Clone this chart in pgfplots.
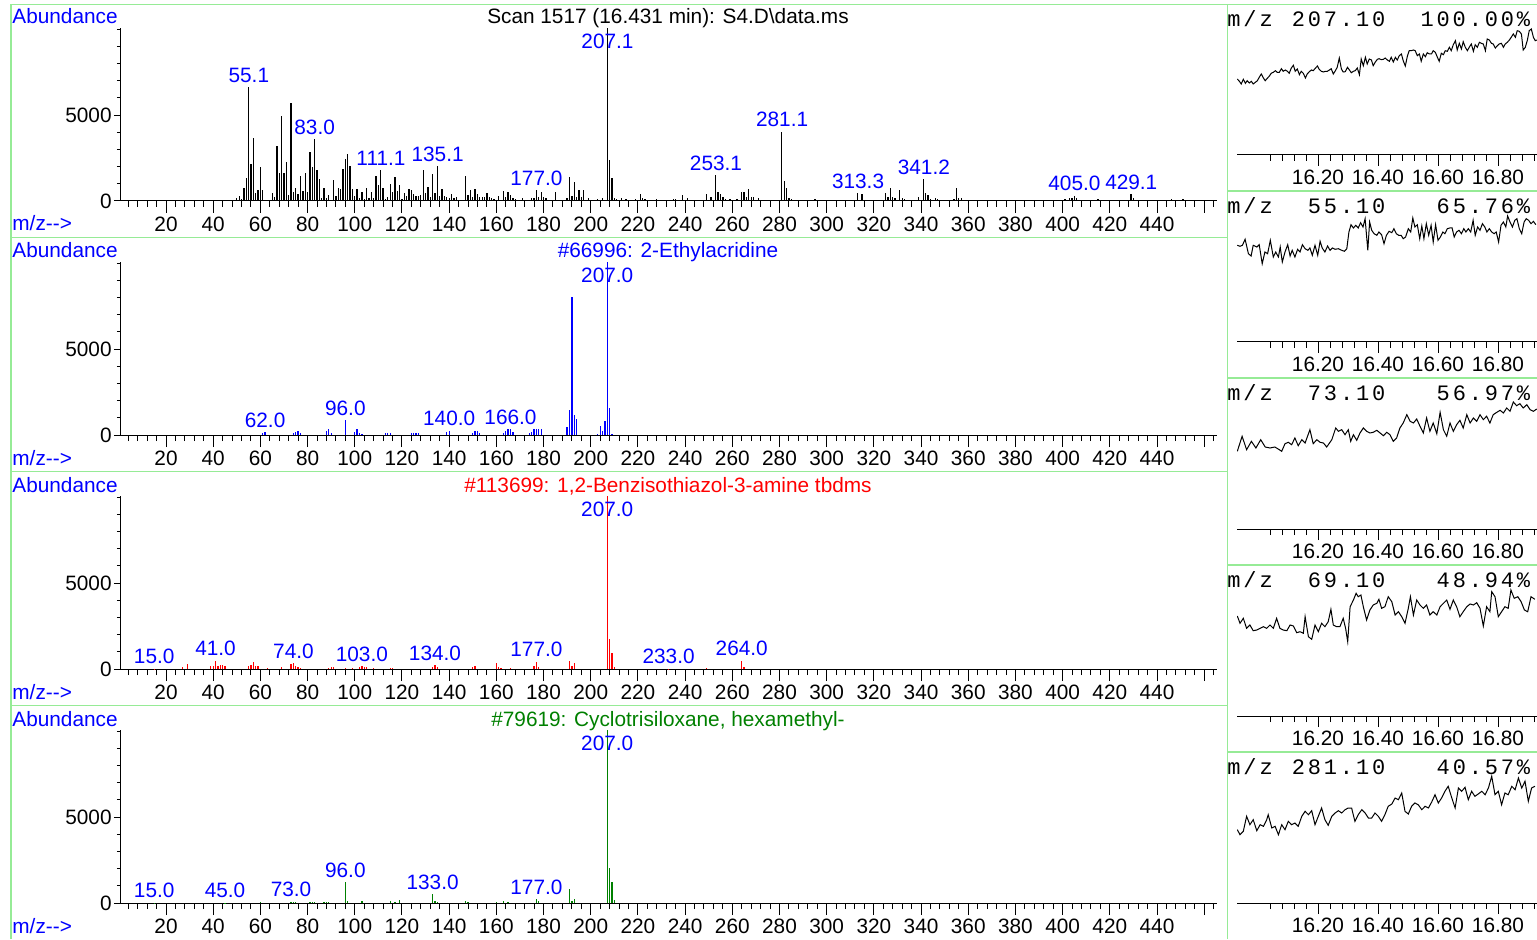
\documentclass[border=0pt]{standalone}
\usepackage{fontspec}
\setmainfont{Liberation Sans}
\newfontfamily\cmono[LetterSpace=13]{Liberation Mono}
\usepackage{pgfplots}
\pgfplotsset{compat=1.18}
\definecolor{gline}{RGB}{150,235,150}
\definecolor{lb}{RGB}{0,0,255}
\definecolor{lr}{RGB}{255,0,0}
\definecolor{lg}{RGB}{0,128,0}
\newcommand\fs{\fontsize{10.4}{12}\selectfont}
\newcommand\Pt[2]{({(#1)*0.5pt},{(939-(#2))*0.5pt})}
\tikzset{lbl/.style={text=lb, font=\fs, inner sep=0pt, yshift=6pt},
 lbltop/.style={text=lb, font=\fs, inner sep=0pt, yshift=-6.5pt}}
\pgfplotsset{
 spec/.style={scale only axis, width=548.5pt, height=86.5pt,
   xmin=0.5, xmax=465.43, ymin=0, ymax=10060,
   axis x line=bottom, axis y line=none, x axis line style={-},
   xtick={20,40,...,440}, minor xtick={4,8,...,464},
   extra x ticks={460}, extra x tick labels={},
   ytick=\empty, tick align=outside,
   major tick length=6pt, minor tick length=3pt,
   tick style={black, line width=0.5pt}, axis line style={line width=0.5pt},
   xticklabel style={font=\fs, inner sep=2pt},
   /pgf/number format/assume math mode=true,
   clip mode=individual, anchor=south west},
 yax/.style={scale only axis, width=548.5pt, height=86.5pt,
   xmin=0.5, xmax=465.43, ymin=0, ymax=10060,
   axis y line=left, axis x line=none, y axis line style={-},
   scaled y ticks=false,
   xtick=\empty, ytick={0,5000}, yticklabels={0,5000},
   minor ytick={1000,2000,3000,4000,6000,7000,8000,9000,10000},
   tick align=outside, major tick length=3pt, minor tick length=1.5pt,
   tick style={black,line width=0.5pt}, axis line style={line width=0.5pt},
   yticklabel style={font=\fs, inner sep=0pt, xshift=-1pt}, anchor=south west},
 chrom/.style={scale only axis, width=150pt, height=70pt,
   xmin=15.93, xmax=16.93, ymin=0, ymax=140,
   axis x line=bottom, axis y line=none, x axis line style={-},
   xtick={16.2,16.4,16.6,16.8}, xticklabels={16.20,16.40,16.60,16.80},
   minor xtick={16.04,16.08,16.12,16.16,16.24,16.28,16.32,16.36,16.44,16.48,16.52,16.56,16.64,16.68,16.72,16.76,16.84,16.88,16.92},
   ytick=\empty, tick align=outside, major tick length=5.5pt, minor tick length=3pt,
   tick style={black,line width=0.5pt}, axis line style={line width=0.5pt},
   xticklabel style={font=\fs, inner sep=2pt}, anchor=south west},
 bars/.style={ycomb, line width=0.65pt, mark=none},
 chl/.style={black, line width=0.5pt, mark=none}
}
\begin{document}
\begin{tikzpicture}
\path[use as bounding box] (0,0) rectangle (768.5pt,469.5pt);
% green frame lines
\begin{scope}[gline, line width=0.6pt]
\draw \Pt{11}{4.3} -- \Pt{1537}{4.3};
\draw \Pt{11}{4.3} -- \Pt{11}{939};
\draw \Pt{1227.5}{4.3} -- \Pt{1227.5}{939};
\draw \Pt{11}{237.5} -- \Pt{1227.5}{237.5};
\draw \Pt{11}{471.5} -- \Pt{1227.5}{471.5};
\draw \Pt{11}{705.5} -- \Pt{1227.5}{705.5};
\draw \Pt{1227.5}{191} -- \Pt{1537}{191};
\draw \Pt{1227.5}{378} -- \Pt{1537}{378};
\draw \Pt{1227.5}{565} -- \Pt{1537}{565};
\draw \Pt{1227.5}{752} -- \Pt{1537}{752};
\end{scope}
% panel texts
\foreach \k in {0,1,2,3}{
 \node[anchor=base west, inner sep=0pt, text=lb, font=\fs] at \Pt{12}{24+234*\k} {Abundance};
 \node[anchor=base west, inner sep=0pt, text=lb, font=\fs] at \Pt{12}{231+234*\k} {m/z-{}->};
}
\node[anchor=base, inner sep=0pt, font=\fs] at \Pt{668}{24} {Scan 1517 (16.431 min): S4.D\textbackslash data.ms};
\node[anchor=base, inner sep=0pt, font=\fs, text=lb] at \Pt{668}{258} {\#66996: 2-Ethylacridine};
\node[anchor=base, inner sep=0pt, font=\fs, text=lr] at \Pt{668}{492} {\#113699: 1,2-Benzisothiazol-3-amine tbdms};
\node[anchor=base, inner sep=0pt, font=\fs, text=lg] at \Pt{668}{726} {\#79619: Cyclotrisiloxane, hexamethyl-};
% chromatogram headers
\begin{scope}[every node/.style={anchor=base west, inner sep=0pt, font=\cmono\fontsize{11}{12}\selectfont}]
\node at \Pt{1227}{26.5} {m/z}; \node at \Pt{1291.4}{26.5} {207.10}; \node at \Pt{1420.2}{26.5} {100.00\%};
\node at \Pt{1227}{213.5} {m/z}; \node at \Pt{1307.5}{213.5} {55.10}; \node at \Pt{1436.3}{213.5} {65.76\%};
\node at \Pt{1227}{400.5} {m/z}; \node at \Pt{1307.5}{400.5} {73.10}; \node at \Pt{1436.3}{400.5} {56.97\%};
\node at \Pt{1227}{587.5} {m/z}; \node at \Pt{1307.5}{587.5} {69.10}; \node at \Pt{1436.3}{587.5} {48.94\%};
\node at \Pt{1227}{774.5} {m/z}; \node at \Pt{1291.4}{774.5} {281.10}; \node at \Pt{1436.3}{774.5} {40.57\%};
\end{scope}

% ---------------- Spectrum 1: scan
\begin{axis}[spec, at={(60pt,369pt)}]
\addplot[bars, black] coordinates {(50,150)(51,290)(52,100)(53,740)(54,1350)(55,6630)(56,2130)(57,3680)(58,480)(59,640)(60,2000)(61,620)(65,450)(66,250)(67,3200)(68,1610)(69,4920)(70,1610)(71,2250)(72,330)(73,5720)(74,520)(75,780)(76,390)(77,1430)(78,600)(79,1640)(80,520)(81,2850)(82,1970)(83,3580)(84,1800)(85,1300)(86,150)(87,780)(88,150)(89,330)(91,1200)(92,290)(93,740)(94,680)(95,1840)(96,2460)(97,2750)(98,2040)(99,680)(100,290)(101,720)(102,150)(103,520)(104,100)(105,780)(106,200)(107,520)(108,150)(109,1470)(110,910)(111,1780)(112,740)(113,120)(114,250)(115,1000)(116,540)(117,1410)(118,560)(119,910)(120,100)(121,450)(122,290)(123,680)(124,640)(125,390)(126,290)(127,290)(128,350)(129,1800)(130,450)(131,830)(132,250)(133,1570)(134,480)(135,2030)(136,290)(137,720)(138,290)(139,250)(140,150)(141,390)(142,150)(143,250)(147,1450)(148,350)(149,640)(150,250)(151,680)(152,390)(153,250)(154,250)(155,250)(156,450)(157,250)(158,150)(159,100)(161,290)(163,600)(164,250)(165,540)(166,350)(167,150)(168,100)(171,150)(175,150)(176,150)(177,640)(178,250)(179,520)(180,250)(181,150)(185,500)(190,150)(191,1410)(192,290)(193,1100)(194,250)(195,620)(196,250)(197,620)(199,150)(203,100)(205,150)(207,10060)(208,2380)(209,1340)(210,150)(211,100)(213,200)(215,100)(219,100)(221,400)(222,150)(223,100)(228,100)(235,100)(236,100)(239,370)(241,150)(249,400)(251,250)(253,1510)(254,500)(255,400)(256,250)(257,100)(259,100)(262,100)(264,540)(265,540)(266,250)(267,700)(268,250)(269,250)(271,200)(281,4030)(282,1160)(283,780)(284,150)(285,100)(295,100)(313,450)(315,400)(325,450)(326,250)(327,780)(328,250)(329,150)(331,620)(332,150)(333,100)(339,250)(341,1260)(342,450)(343,350)(344,100)(346,150)(347,100)(354,100)(355,780)(356,200)(357,150)(401,100)(403,150)(404,200)(405,310)(406,150)(415,100)(429,400)(430,150)(446,120)(451,100)};
\node[lbl] at (axis cs:55.1,6630) {55.1};
\node[lbl] at (axis cs:83.0,3580) {83.0};
\node[lbl] at (axis cs:111.1,1780) {111.1};
\node[lbl] at (axis cs:135.1,2030) {135.1};
\node[lbl] at (axis cs:177.0,640) {177.0};
\node[lbltop] at (axis cs:207.1,10060) {207.1};
\node[lbl] at (axis cs:253.1,1510) {253.1};
\node[lbl] at (axis cs:281.1,4030) {281.1};
\node[lbl] at (axis cs:313.3,450) {313.3};
\node[lbl] at (axis cs:341.2,1260) {341.2};
\node[lbl] at (axis cs:405.0,310) {405.0};
\node[lbl] at (axis cs:429.1,400) {429.1};
\end{axis}
\begin{axis}[yax, at={(60pt,369pt)}]\end{axis}

% ---------------- Spectrum 2: 2-Ethylacridine
\begin{axis}[spec, at={(60pt,252pt)}]
\addplot[bars, lb] coordinates {(61,100)(62,150)(74,100)(75,190)(76,250)(77,140)(88,250)(89,350)(90,100)(96,850)(100,150)(101,350)(102,100)(103,60)(113,100)(114,100)(115,100)(124,100)(125,100)(126,100)(127,100)(139,190)(140,250)(150,140)(151,250)(152,250)(153,100)(163,140)(164,230)(165,350)(166,350)(167,150)(174,100)(175,190)(176,350)(177,350)(178,350)(179,350)(190,450)(191,1450)(192,8040)(193,1160)(194,930)(203,40)(204,540)(205,250)(206,830)(207,10060)(208,1550)(209,60)};
\node[lbl] at (axis cs:62.0,150) {62.0};
\node[lbl] at (axis cs:96.0,850) {96.0};
\node[lbl] at (axis cs:140.0,250) {140.0};
\node[lbl] at (axis cs:166.0,350) {166.0};
\node[lbltop] at (axis cs:207.0,10060) {207.0};
\end{axis}
\begin{axis}[yax, at={(60pt,252pt)}]\end{axis}

% ---------------- Spectrum 3: 1,2-Benzisothiazol-3-amine tbdms
\begin{axis}[spec, at={(60pt,135pt)}]
\addplot[bars, lr] coordinates {(15,20)(27,110)(29,290)(39,190)(40,150)(41,480)(42,150)(43,250)(44,250)(45,150)(55,150)(56,250)(57,400)(58,190)(59,150)(63,80)(69,110)(73,290)(74,330)(75,190)(76,130)(77,80)(89,80)(90,130)(91,110)(96,80)(99,80)(102,110)(103,170)(104,130)(105,110)(108,80)(115,80)(116,80)(133,100)(134,230)(135,110)(150,110)(151,190)(160,350)(161,110)(162,80)(166,80)(176,150)(177,420)(178,100)(191,460)(192,190)(193,350)(207,10060)(208,1720)(209,920)(210,110)(233,20)(249,80)(264,480)(265,110)};
\node[lbl] at (axis cs:15.0,20) {15.0};
\node[lbl] at (axis cs:41.0,480) {41.0};
\node[lbl] at (axis cs:74.0,330) {74.0};
\node[lbl] at (axis cs:103.0,170) {103.0};
\node[lbl] at (axis cs:134.0,230) {134.0};
\node[lbl] at (axis cs:177.0,420) {177.0};
\node[lbltop] at (axis cs:207.0,10060) {207.0};
\node[lbl] at (axis cs:233.0,20) {233.0};
\node[lbl] at (axis cs:264.0,480) {264.0};
\end{axis}
\begin{axis}[yax, at={(60pt,135pt)}]\end{axis}

% ---------------- Spectrum 4: Cyclotrisiloxane, hexamethyl-
\begin{axis}[spec, at={(60pt,18pt)}]
\addplot[bars, lg] coordinates {(15,20)(45,20)(60,40)(73,80)(74,80)(75,40)(81,60)(82,60)(83,60)(87,80)(88,80)(89,80)(96,1220)(97,100)(103,100)(115,100)(117,60)(119,170)(133,500)(134,100)(135,60)(147,100)(148,60)(160,80)(163,115)(165,60)(177,230)(178,100)(191,810)(192,135)(193,230)(207,10060)(208,2060)(209,1220)(210,170)};
\node[lbl] at (axis cs:15.0,20) {15.0};
\node[lbl] at (axis cs:45.0,20) {45.0};
\node[lbl] at (axis cs:73.0,80) {73.0};
\node[lbl] at (axis cs:96.0,1220) {96.0};
\node[lbl] at (axis cs:133.0,500) {133.0};
\node[lbl] at (axis cs:177.0,230) {177.0};
\node[lbltop] at (axis cs:207.0,10060) {207.0};
\end{axis}
\begin{axis}[yax, at={(60pt,18pt)}]\end{axis}

% ---------------- Chromatogram m/z 207.10
\begin{axis}[chrom, at={(618.5pt,392pt)}]
\addplot[chl] coordinates {(15.931,76)(15.938,73.7)(15.944,71)(15.951,75.7)(15.958,71.7)(15.964,74.3)(15.971,72)(15.978,73.7)(15.984,71)(15.991,72.7)(15.998,74.3)(16.004,77.7)(16.011,81)(16.018,77)(16.024,74.3)(16.031,76.7)(16.038,79)(16.044,81.7)(16.051,82.7)(16.058,84.3)(16.064,82.7)(16.071,82.7)(16.078,86.3)(16.084,83.7)(16.091,85)(16.098,83.7)(16.104,81.7)(16.111,87)(16.118,89.7)(16.124,83.7)(16.131,86)(16.138,80.3)(16.144,83.7)(16.151,81.7)(16.158,77)(16.164,81)(16.171,83.3)(16.178,85)(16.184,84.3)(16.191,86.7)(16.198,89)(16.204,85.7)(16.211,83.7)(16.218,83)(16.224,83.7)(16.231,83.7)(16.238,85)(16.244,86.3)(16.251,81)(16.258,84.3)(16.264,87.7)(16.271,97)(16.278,86)(16.284,83)(16.291,83.3)(16.298,87.7)(16.304,85.3)(16.311,82.3)(16.318,83.7)(16.324,84.3)(16.331,87)(16.338,80.3)(16.344,96)(16.351,89.3)(16.358,97.7)(16.364,91)(16.371,96)(16.378,95)(16.384,89.3)(16.391,93)(16.398,95.7)(16.404,96.3)(16.411,95.3)(16.418,95.7)(16.424,97)(16.431,95)(16.438,93.7)(16.444,97.7)(16.451,93)(16.458,97.7)(16.464,95)(16.471,99.3)(16.478,101)(16.484,94.3)(16.491,89)(16.498,99)(16.504,104.3)(16.511,104.3)(16.518,105)(16.524,104.3)(16.531,99.3)(16.538,101)(16.544,93.7)(16.551,101)(16.558,98.3)(16.564,102.3)(16.571,101)(16.578,101)(16.584,104.3)(16.591,102.7)(16.598,97.7)(16.604,93.7)(16.611,101.7)(16.618,100.3)(16.624,104.3)(16.631,103.7)(16.638,107.7)(16.644,104.3)(16.651,110.3)(16.658,114.3)(16.664,105)(16.671,111.7)(16.678,106)(16.684,113.3)(16.691,107.7)(16.698,104.3)(16.704,107.7)(16.711,111)(16.718,103.7)(16.724,110.3)(16.731,107.7)(16.738,112.7)(16.744,111.7)(16.751,111)(16.758,104.3)(16.764,116)(16.771,115)(16.778,111.7)(16.784,111)(16.791,107)(16.798,109.3)(16.804,111)(16.811,111.7)(16.818,107.7)(16.824,111)(16.831,112.7)(16.838,115)(16.844,117.7)(16.851,121)(16.858,117.7)(16.864,124.3)(16.871,123.7)(16.878,121)(16.884,105)(16.891,107.7)(16.898,115)(16.904,124.3)(16.911,126)(16.918,117.7)(16.924,114.3)(16.930,115)};
\end{axis}

% ---------------- Chromatogram m/z 55.10
\begin{axis}[chrom, at={(618.5pt,298.5pt)}]
\addplot[chl] coordinates {(15.931,96.7)(15.940,95.7)(15.948,96.7)(15.957,102.7)(15.968,88.3)(15.977,86)(15.984,96.7)(15.996,95)(16.004,97.3)(16.014,78.3)(16.023,90)(16.032,88.3)(16.041,101.7)(16.051,85)(16.059,90)(16.068,85)(16.074,95)(16.081,80)(16.090,90)(16.099,97.3)(16.107,86)(16.114,91.7)(16.123,85)(16.132,92.7)(16.140,90)(16.148,97.3)(16.157,93.3)(16.166,91.7)(16.173,94)(16.181,86.7)(16.190,96.7)(16.199,86.7)(16.207,100.7)(16.214,94)(16.223,90)(16.232,96)(16.240,91.7)(16.248,94)(16.257,92.7)(16.268,93.3)(16.279,91.7)(16.288,90.7)(16.296,93.3)(16.303,110)(16.310,117.3)(16.318,114)(16.326,116.7)(16.334,114)(16.342,119.3)(16.350,115)(16.357,123.3)(16.366,91.7)(16.372,120)(16.379,111.7)(16.387,108.3)(16.396,106.7)(16.403,110)(16.412,107.3)(16.420,98.3)(16.428,106.7)(16.437,110.7)(16.446,109.3)(16.453,113.3)(16.461,108.3)(16.469,106.7)(16.477,106.7)(16.484,103.3)(16.492,105)(16.501,113.3)(16.509,110)(16.516,124)(16.523,115)(16.531,117.3)(16.539,103.3)(16.546,116)(16.553,103.3)(16.561,118.3)(16.569,106.7)(16.577,116.7)(16.584,100)(16.592,117.3)(16.600,101.7)(16.608,105)(16.616,110)(16.623,108.3)(16.631,113.3)(16.639,114)(16.647,114)(16.654,105)(16.662,110)(16.670,111.7)(16.678,108.3)(16.686,113.3)(16.693,110)(16.701,113.3)(16.709,110)(16.717,121.7)(16.724,106.7)(16.732,115)(16.740,111.7)(16.748,118.3)(16.756,115)(16.763,110)(16.771,113.3)(16.779,110)(16.787,108.3)(16.794,110)(16.802,100)(16.810,116.7)(16.818,120)(16.826,115)(16.832,126)(16.840,120)(16.848,115)(16.856,121.7)(16.863,123.3)(16.871,113.3)(16.879,108.3)(16.887,120)(16.894,123.3)(16.902,121.7)(16.910,118.3)(16.918,120.7)(16.926,117.3)};
\end{axis}

% ---------------- Chromatogram m/z 73.10
\begin{axis}[chrom, at={(618.5pt,205pt)}]
\addplot[chl] coordinates {(15.931,77.7)(15.947,92.7)(15.962,79.3)(15.978,87.7)(15.993,81)(16.009,89.3)(16.024,82)(16.040,81)(16.056,82)(16.071,79.3)(16.079,77.7)(16.090,85.3)(16.101,86.7)(16.112,84.3)(16.123,91)(16.134,83.3)(16.146,89.3)(16.157,86)(16.173,99.3)(16.184,85.3)(16.196,89.3)(16.207,86.7)(16.218,86)(16.229,82)(16.246,89.3)(16.259,101)(16.268,97.7)(16.279,99.3)(16.290,94.3)(16.301,99.3)(16.309,87.7)(16.318,94.3)(16.329,88.7)(16.340,96)(16.351,101)(16.362,97.7)(16.373,96)(16.384,96.7)(16.396,98.7)(16.407,96)(16.418,93.3)(16.429,96.7)(16.440,94.3)(16.451,87.7)(16.462,91)(16.473,101)(16.484,106)(16.496,114.3)(16.507,107.7)(16.518,106)(16.529,110)(16.540,102.7)(16.551,96)(16.562,111)(16.573,97.7)(16.584,106)(16.596,95.3)(16.607,116.7)(16.618,99.3)(16.629,92.7)(16.640,106)(16.651,97.7)(16.662,104.3)(16.673,108.7)(16.684,101)(16.696,114.3)(16.707,106)(16.718,111)(16.729,107.7)(16.740,114.3)(16.751,109.3)(16.762,112.7)(16.773,106)(16.784,114.3)(16.796,116.7)(16.807,118.7)(16.818,116)(16.829,121)(16.840,117.7)(16.851,127)(16.862,123.3)(16.873,125.3)(16.884,121)(16.896,124.3)(16.907,119.3)(16.918,117.7)(16.929,120)};
\end{axis}

% ---------------- Chromatogram m/z 69.10
\begin{axis}[chrom, at={(618.5pt,111.5pt)}]
\addplot[chl] coordinates {(15.931,100)(15.940,92.7)(15.951,97.7)(15.962,87.7)(15.973,91)(15.984,85.3)(15.996,86)(16.007,87.7)(16.018,89.3)(16.029,87.7)(16.040,91)(16.051,87.7)(16.062,97.7)(16.073,87.7)(16.084,86)(16.096,85.3)(16.107,91)(16.118,90)(16.129,83.3)(16.140,84.3)(16.151,82.7)(16.157,99.3)(16.168,79.3)(16.179,76.7)(16.190,91)(16.201,84.3)(16.212,92.7)(16.223,89.3)(16.234,94.3)(16.243,106.7)(16.251,91)(16.262,89.3)(16.273,89.3)(16.284,97.7)(16.292,87.7)(16.299,74.3)(16.307,109.3)(16.318,116)(16.327,122.7)(16.334,119.3)(16.343,121)(16.351,109.3)(16.362,96)(16.373,106)(16.384,111)(16.396,112.7)(16.403,116.7)(16.412,107.7)(16.423,109.3)(16.434,119.3)(16.446,114.3)(16.457,101)(16.468,104.3)(16.479,99.3)(16.490,92.7)(16.501,107.7)(16.508,119.3)(16.518,101)(16.529,116)(16.540,111)(16.551,107.7)(16.562,111)(16.573,101)(16.584,104.3)(16.596,101)(16.607,109.3)(16.618,112.7)(16.629,116)(16.640,106.7)(16.651,116)(16.662,109.3)(16.673,99.3)(16.684,104.3)(16.696,109.3)(16.707,112)(16.718,111)(16.729,113.3)(16.740,107.7)(16.751,90)(16.762,109.3)(16.773,104.3)(16.779,124.3)(16.790,119.3)(16.801,99.3)(16.812,104.3)(16.823,109.3)(16.834,107.7)(16.843,126)(16.854,117.7)(16.866,119.3)(16.877,114.3)(16.888,106)(16.899,104.3)(16.910,119.3)(16.923,116.7)};
\end{axis}

% ---------------- Chromatogram m/z 281.10
\begin{axis}[chrom, at={(618.5pt,18pt)}]
\addplot[chl] coordinates {(15.931,73.3)(15.940,68.3)(15.951,71.7)(15.962,86.7)(15.973,78.3)(15.984,83.3)(15.996,72.3)(16.007,78.3)(16.018,76.7)(16.029,83.3)(16.034,88.3)(16.046,75)(16.057,76.7)(16.068,68.3)(16.079,78.3)(16.090,73.3)(16.101,81.7)(16.112,78.3)(16.123,80)(16.134,76.7)(16.146,86.7)(16.157,91.7)(16.168,88.3)(16.179,92.3)(16.190,78.3)(16.201,86.7)(16.212,95)(16.223,83.3)(16.234,77.7)(16.246,86.7)(16.257,90)(16.268,92.3)(16.279,90)(16.290,93.3)(16.301,95)(16.312,95)(16.323,81.7)(16.334,88.3)(16.346,93.3)(16.357,90)(16.368,85)(16.379,85)(16.390,90)(16.401,86.7)(16.412,81.7)(16.423,88.3)(16.434,96.7)(16.446,99)(16.457,105)(16.468,103.3)(16.479,110)(16.490,91.7)(16.501,89)(16.512,96.7)(16.523,100)(16.534,98.3)(16.546,93.3)(16.557,96.7)(16.568,95)(16.579,101)(16.590,108.3)(16.601,100)(16.612,105)(16.623,111.7)(16.634,116.7)(16.646,105)(16.657,95)(16.668,115)(16.679,111.7)(16.690,115.7)(16.701,103.3)(16.712,111.7)(16.723,106.7)(16.734,109)(16.746,111.7)(16.757,108.3)(16.768,115)(16.779,126.7)(16.790,108.3)(16.801,111.7)(16.812,98.3)(16.823,110)(16.834,108.3)(16.846,116.7)(16.857,113.3)(16.868,125)(16.879,115)(16.890,121.7)(16.901,101.7)(16.912,115)(16.923,116.7)};
\end{axis}
\end{tikzpicture}
\end{document}
